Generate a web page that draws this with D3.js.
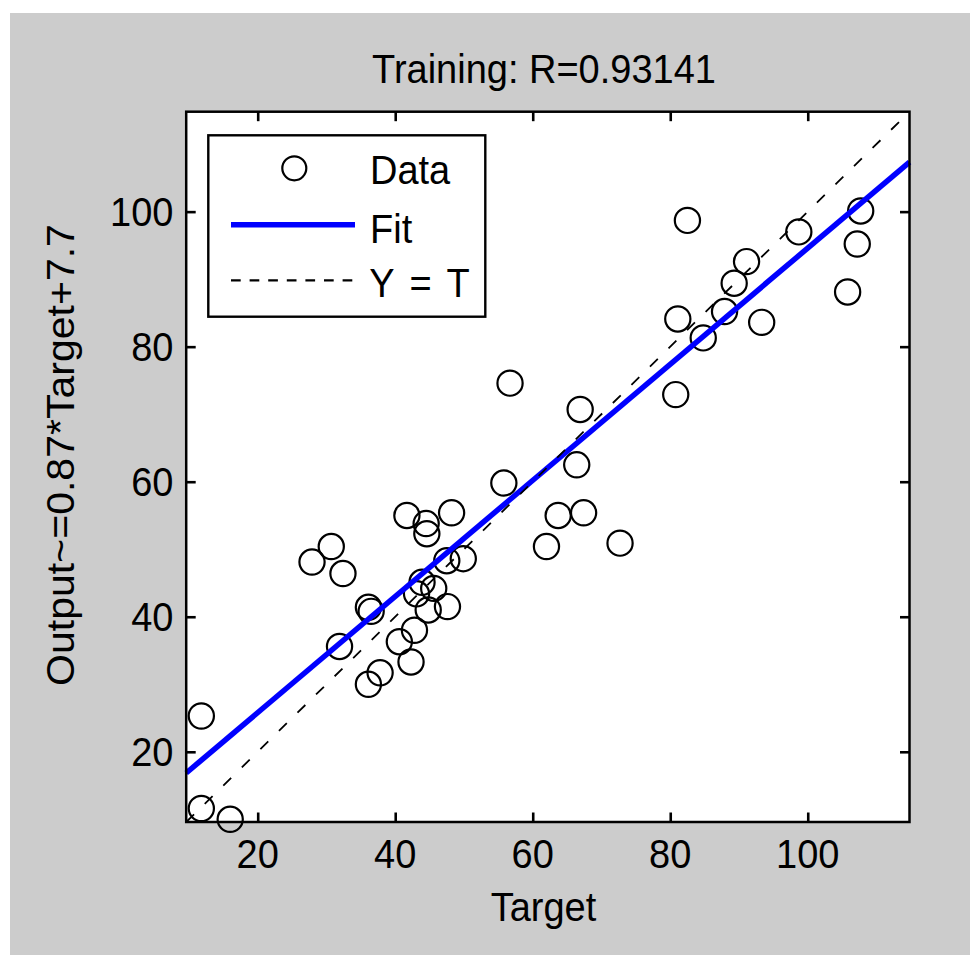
<!DOCTYPE html>
<html>
<head>
<meta charset="utf-8">
<script src="https://cdn.jsdelivr.net/npm/d3@7"></script>
<style>
  html, body { margin: 0; padding: 0; background: #ffffff; }
  svg { display: block; }
  text { font-family: "Liberation Sans", Arial, Helvetica, sans-serif; fill: #000; }
</style>
</head>
<body>
<svg id="chart" width="970" height="955"></svg>
<script>
// ---- data ----
const targets = [11.8, 11.8, 16.0, 27.9, 30.7, 32.4, 31.9, 36.1, 36.5, 36.1,
                 37.8, 40.6, 41.7, 42.3, 42.8, 43.1, 43.9, 44.5, 44.6, 44.8,
                 45.6, 47.5, 47.6, 48.2, 49.9, 55.8, 56.7, 62.0, 63.7, 66.4,
                 66.9, 67.4, 72.7, 80.8, 81.1, 82.5, 84.8, 87.9, 89.3, 91.1,
                 93.3, 98.7, 105.8, 107.2, 107.7];
const outputs = [25.3, 11.6, 10.0, 48.1, 50.4, 46.4, 35.6, 41.4, 40.8, 30.0,
                 31.7, 36.3, 55.0, 33.3, 38.0, 43.4, 45.1, 53.8, 52.3, 41.0,
                 44.2, 48.3, 41.5, 55.4, 48.6, 59.8, 74.6, 50.4, 55.0, 62.5,
                 70.7, 55.4, 50.9, 72.9, 84.1, 98.7, 81.3, 85.2, 89.4, 92.6,
                 83.6, 97.0, 88.1, 95.2, 100.1];
const axisDomain = [9.6, 114.8];
const fitSlope = 0.86;
const fitIntercept = 8.6;
const tickValues = [20, 40, 60, 80, 100];
const titleText = "Training: R=0.93141";
const xLabelText = "Target";
const yLabelText = "Output~=0.87*Target+7.7";
const legendLabels = ["Data", "Fit", "Y = T"];

// ---- drawing ----
const svg = d3.select("#chart");
const FS = 38, SY = 1.08;

svg.append("rect").attr("x", 10).attr("y", 13).attr("width", 960).attr("height", 942)
  .attr("fill", "#cccccc");

const x = d3.scaleLinear().domain(axisDomain).range([186.2, 909.5]);
const y = d3.scaleLinear().domain(axisDomain).range([822, 111.7]);

function label(px, py, s, anchor, rot) {
  return svg.append("text")
    .attr("transform", `translate(${px},${py}) scale(1,${SY})` + (rot ? " rotate(-90)" : ""))
    .attr("text-anchor", anchor)
    .attr("font-size", FS)
    .text(s);
}

// plot area
svg.append("rect")
  .attr("x", x.range()[0]).attr("y", y.range()[1])
  .attr("width", x.range()[1] - x.range()[0])
  .attr("height", y.range()[0] - y.range()[1])
  .attr("fill", "#ffffff");

// data circles
const pts = targets.map((t, i) => ({ t, o: outputs[i] }));
svg.append("g").selectAll("circle").data(pts).join("circle")
  .attr("cx", d => x(d.t)).attr("cy", d => y(d.o)).attr("r", 12.6)
  .attr("fill", "none").attr("stroke", "#000").attr("stroke-width", 2.2);

// fit line
const line = d3.line().x(d => x(d[0])).y(d => y(d[1]));
svg.append("path")
  .datum(axisDomain.map(v => [v, fitSlope * v + fitIntercept]))
  .attr("d", line).attr("fill", "none").attr("stroke", "#0000ff").attr("stroke-width", 5.5);

// Y = T line
svg.append("path")
  .datum(axisDomain.map(v => [v, v]))
  .attr("d", line).attr("fill", "none").attr("stroke", "#000")
  .attr("stroke-width", 1.8).attr("stroke-dasharray", "11,15");

// axes ticks (inward, all four sides)
const tk = -9.5;
function styleAxis(g) {
  g.select(".domain").remove();
  g.selectAll(".tick line").attr("stroke", "#000").attr("stroke-width", 2.6);
  g.selectAll(".tick text").remove();
}
svg.append("g").attr("transform", `translate(0,${y.range()[0]})`)
  .call(d3.axisBottom(x).tickValues(tickValues).tickSize(tk)).call(styleAxis);
svg.append("g").attr("transform", `translate(0,${y.range()[1]})`)
  .call(d3.axisTop(x).tickValues(tickValues).tickSize(tk)).call(styleAxis);
svg.append("g").attr("transform", `translate(${x.range()[0]},0)`)
  .call(d3.axisLeft(y).tickValues(tickValues).tickSize(tk)).call(styleAxis);
svg.append("g").attr("transform", `translate(${x.range()[1]},0)`)
  .call(d3.axisRight(y).tickValues(tickValues).tickSize(tk)).call(styleAxis);

// box
svg.append("rect")
  .attr("x", x.range()[0]).attr("y", y.range()[1])
  .attr("width", x.range()[1] - x.range()[0])
  .attr("height", y.range()[0] - y.range()[1])
  .attr("fill", "none").attr("stroke", "#000").attr("stroke-width", 2.5);

// tick labels
tickValues.forEach(v => label(x(v), 868.3, String(v), "middle"));
tickValues.forEach(v => label(173.5, y(v) + 0.358 * FS * SY, String(v), "end"));

// title & axis labels
label(544, 83, titleText, "middle");
label(543.5, 920.7, xLabelText, "middle");
label(73.5, 455, yLabelText, "middle", true);

// legend
svg.append("rect").attr("x", 208.3).attr("y", 135.3).attr("width", 277).attr("height", 181.4)
  .attr("fill", "#ffffff").attr("stroke", "#000").attr("stroke-width", 2.4);
svg.append("circle").attr("cx", 294.3).attr("cy", 168.3).attr("r", 12)
  .attr("fill", "none").attr("stroke", "#000").attr("stroke-width", 2.2);
svg.append("line").attr("x1", 231).attr("x2", 355).attr("y1", 224.8).attr("y2", 224.8)
  .attr("stroke", "#0000ff").attr("stroke-width", 5.5);
svg.append("line").attr("x1", 231).attr("x2", 355).attr("y1", 280.3).attr("y2", 280.3)
  .attr("stroke", "#000").attr("stroke-width", 2.3).attr("stroke-dasharray", "9.7,8.9");
label(370, 184.3, legendLabels[0], "start");
label(370, 242.7, legendLabels[1], "start");
label(369.3, 296.7, legendLabels[2], "start").attr("word-spacing", 5);
</script>
</body>
</html>
